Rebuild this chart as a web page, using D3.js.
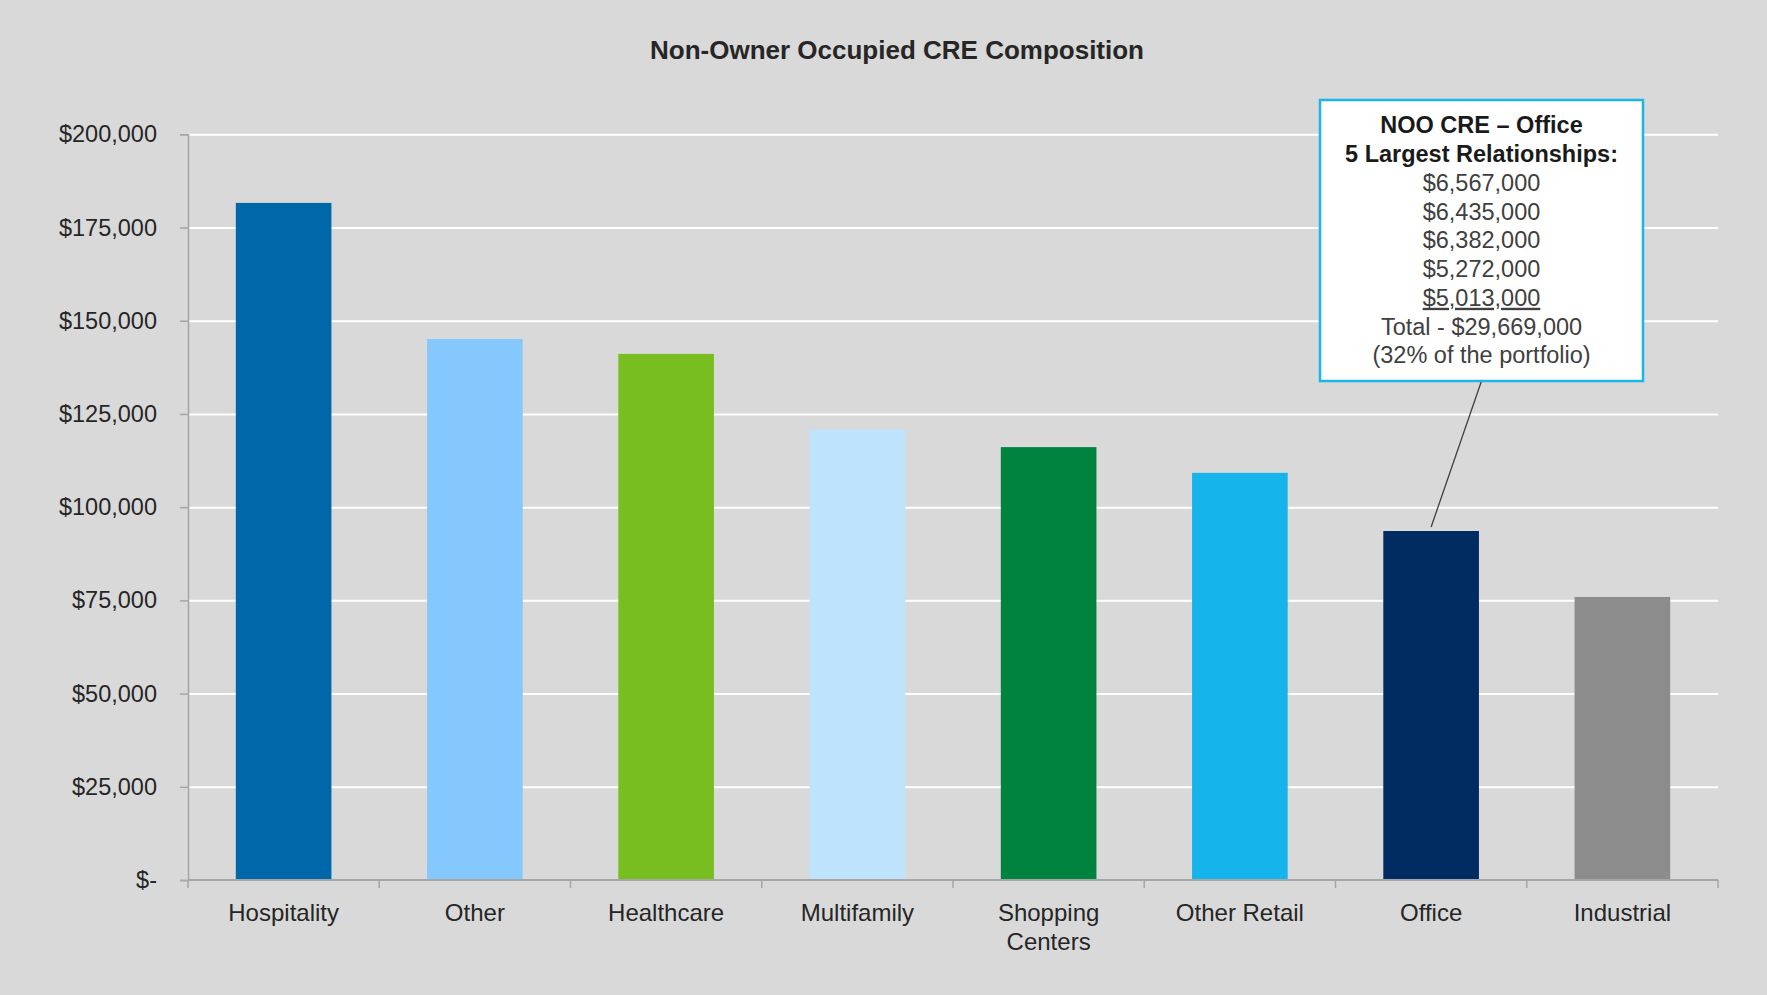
<!DOCTYPE html>
<html>
<head>
<meta charset="utf-8">
<script src="https://cdn.jsdelivr.net/npm/d3@7"></script>
<style>
  html, body { margin: 0; padding: 0; background: #d9d9d9; }
  svg { display: block; font-family: "Liberation Sans", Arial, sans-serif; }
</style>
</head>
<body>
<svg id="chart" width="1767" height="995"></svg>
<script>
// Non-owner occupied CRE balances by property type ($000s)
const categories = ["Hospitality", "Other", "Healthcare", "Multifamily", "Shopping Centers", "Other Retail", "Office", "Industrial"];
const balances = [181600, 145100, 141100, 120800, 116100, 109200, 93600, 75900];
const barColors = ["#0068a9", "#84c8fe", "#78be21", "#bee3fc", "#00833e", "#15b4ea", "#002c62", "#8c8c8c"];
const yTicks = [0, 25000, 50000, 75000, 100000, 125000, 150000, 175000, 200000];

// Callout: largest office relationships
const calloutCategory = "Office";
const calloutTitle = ["NOO CRE \u2013 Office", "5 Largest Relationships:"];
const largestRelationships = ["$6,567,000", "$6,435,000", "$6,382,000", "$5,272,000", "$5,013,000"];
const calloutFooter = ["Total - $29,669,000", "(32% of the portfolio)"];

const svg = d3.select("#chart");
const W = 1767, H = 995;
const plot = { left: 188, right: 1718, top: 134.3, bottom: 880 };

svg.append("rect").attr("width", W).attr("height", H).attr("fill", "#d9d9d9");

const x = d3.scaleBand().domain(categories).range([plot.left, plot.right]).paddingInner(0.5).paddingOuter(0.25);
const y = d3.scaleLinear().domain([0, 200000]).range([plot.bottom, plot.top]);

// Title
svg.append("text")
  .attr("x", 897).attr("y", 59)
  .attr("text-anchor", "middle")
  .attr("font-size", 26).attr("font-weight", "bold").attr("fill", "#262626")
  .text("Non-Owner Occupied CRE Composition");

// Horizontal gridlines
svg.append("g")
  .attr("transform", `translate(${plot.left},0)`)
  .call(d3.axisLeft(y).tickValues(yTicks.filter(d => d > 0)).tickSize(-(plot.right - plot.left)).tickFormat(""))
  .call(g => g.select(".domain").remove())
  .call(g => g.selectAll("line").attr("stroke", "#ffffff").attr("stroke-width", 2));

// Bars
svg.append("g").selectAll("rect")
  .data(categories)
  .join("rect")
  .attr("x", d => x(d))
  .attr("width", x.bandwidth())
  .attr("y", (d, i) => y(balances[i]))
  .attr("height", (d, i) => y(0) - y(balances[i]))
  .attr("fill", (d, i) => barColors[i]);

// Y axis
const yAxis = svg.append("g")
  .attr("transform", `translate(${plot.left},0)`)
  .call(d3.axisLeft(y).tickValues(yTicks).tickSize(8).tickPadding(23)
    .tickFormat(d => d === 0 ? "$-" : d3.format("$,")(d)));
yAxis.select(".domain").attr("stroke", "#a6a6a6").attr("stroke-width", 1.5);
yAxis.selectAll(".tick line").attr("stroke", "#a6a6a6").attr("stroke-width", 1.5);
yAxis.selectAll(".tick text").attr("font-size", 23.5).attr("fill", "#262626").attr("font-family", "Liberation Sans, Arial, sans-serif");

// X axis with ticks at category boundaries
const step = x.step();
const boundaries = d3.range(categories.length + 1).map(i => plot.left + i * step);
const xAxis = svg.append("g");
xAxis.append("line")
  .attr("x1", plot.left).attr("x2", plot.right)
  .attr("y1", plot.bottom).attr("y2", plot.bottom)
  .attr("stroke", "#a6a6a6").attr("stroke-width", 2);
xAxis.selectAll("line.tick")
  .data(boundaries)
  .join("line")
  .attr("class", "tick")
  .attr("x1", d => d).attr("x2", d => d)
  .attr("y1", plot.bottom).attr("y2", plot.bottom + 8)
  .attr("stroke", "#a6a6a6").attr("stroke-width", 1.5);

const labelLines = { "Shopping Centers": ["Shopping", "Centers"] };
xAxis.selectAll("text.cat")
  .data(categories)
  .join("text")
  .attr("class", "cat")
  .attr("text-anchor", "middle")
  .attr("font-size", 24).attr("fill", "#262626")
  .each(function (d) {
    const lines = labelLines[d] || [d];
    d3.select(this).selectAll("tspan")
      .data(lines)
      .join("tspan")
      .attr("x", x(d) + x.bandwidth() / 2)
      .attr("y", (l, i) => 920.7 + i * 29)
      .text(l => l);
  });

// Callout box
const box = { x: 1320, y: 100, w: 323, h: 281 };
const cx = box.x + box.w / 2;
const officeIdx = categories.indexOf(calloutCategory);
const barCenter = x(calloutCategory) + x.bandwidth() / 2;

svg.append("line")
  .attr("x1", cx).attr("y1", box.y + box.h)
  .attr("x2", barCenter).attr("y2", y(balances[officeIdx]) - 4)
  .attr("stroke", "#404040").attr("stroke-width", 1.3);

svg.append("rect")
  .attr("x", box.x).attr("y", box.y).attr("width", box.w).attr("height", box.h)
  .attr("fill", "#ffffff").attr("stroke", "#1ab6e8").attr("stroke-width", 2.5);

const calloutRows = [
  ...calloutTitle.map(t => ({ t, bold: true })),
  ...largestRelationships.map((t, i) => ({ t, bold: false, underline: i === largestRelationships.length - 1 })),
  ...calloutFooter.map(t => ({ t, bold: false }))
];
svg.append("g").selectAll("text")
  .data(calloutRows)
  .join("text")
  .attr("x", cx)
  .attr("y", (d, i) => 133.3 + i * 28.75)
  .attr("text-anchor", "middle")
  .attr("font-size", d => d.bold ? 23.5 : 23.5)
  .attr("font-weight", d => d.bold ? "bold" : "normal")
  .attr("fill", d => d.bold ? "#1a1a1a" : "#404040")
  .style("text-decoration", d => d.underline ? "underline" : "none")
  .text(d => d.t);
</script>
</body>
</html>
